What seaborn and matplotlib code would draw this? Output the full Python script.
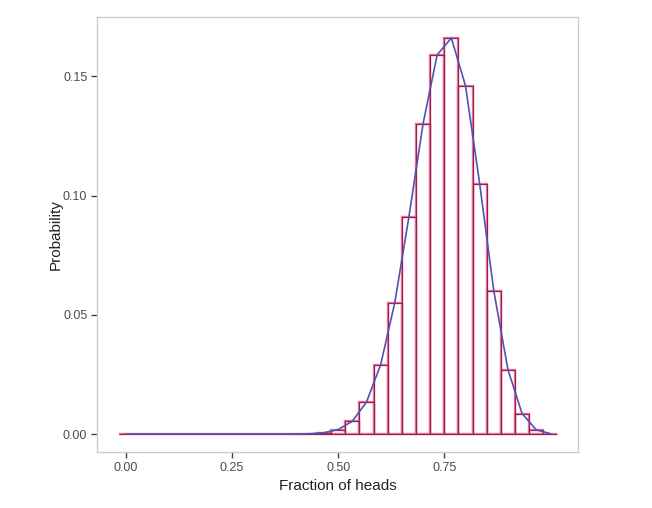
import numpy as np
import pandas as pd
import matplotlib
matplotlib.use("Agg")
import matplotlib.pyplot as plt
import seaborn as sns

sns.set_theme(style="white")
plt.rcParams['font.family'] = ['Liberation Sans', 'DejaVu Sans']

# 30 coin flips, probability of each number of heads
n_flips = 30
heads = np.arange(0, 31)
probs = [0, 0, 0, 0, 0, 0, 0, 0, 0, 0, 0, 0,
         0.00004, 0.00017, 0.0006, 0.0019, 0.0054, 0.0134, 0.029, 0.055,
         0.091, 0.130, 0.159, 0.166, 0.146, 0.105, 0.060, 0.027, 0.0086,
         0.0018, 0.0002]
x_ticks = [0.00, 0.25, 0.50, 0.75]
y_ticks = [0.00, 0.05, 0.10, 0.15]

df = pd.DataFrame({'fraction': heads / n_flips, 'prob': probs})
half = 0.5 / n_flips
edges = list(df['fraction'] - half) + [df['fraction'].iloc[-1] + half]

fig = plt.figure(figsize=(6.52, 5.08), dpi=100)
ax = fig.add_axes([0.1488, 0.1102, 0.7377, 0.8563])

# pink outline with a darker core, like the original
sns.histplot(data=df, x='fraction', weights='prob', bins=edges, fill=False,
             color='#e07aa2', linewidth=1.7, ax=ax)
sns.histplot(data=df, x='fraction', weights='prob', bins=edges, fill=False,
             color='#a01a4e', linewidth=0.8, ax=ax)
sns.lineplot(data=df, x='fraction', y='prob', color='#5252b0', linewidth=1.2, ax=ax)

ax.set_xlim(-0.068, 1.065)
ax.set_ylim(-0.0075, 0.1748)
ax.set_xticks(x_ticks)
ax.set_xticklabels([f"{t:.2f}" for t in x_ticks])
ax.set_yticks(y_ticks)
ax.set_yticklabels([f"{t:.2f}" for t in y_ticks])
ax.tick_params(axis='both', direction='out', length=4, width=1, color='#444444',
               labelsize=9, labelcolor='#4d4d4d', pad=3, bottom=True, left=True)

for side in ['top', 'right', 'bottom', 'left']:
    ax.spines[side].set_visible(True)
    ax.spines[side].set_color('#cccccc')
    ax.spines[side].set_linewidth(1.0)

ax.set_xlabel('Fraction of heads', fontsize=11, color='#222222', labelpad=4)
ax.set_ylabel('Probability', fontsize=11, color='#222222', labelpad=0)

fig.savefig('out.png', dpi=100)
